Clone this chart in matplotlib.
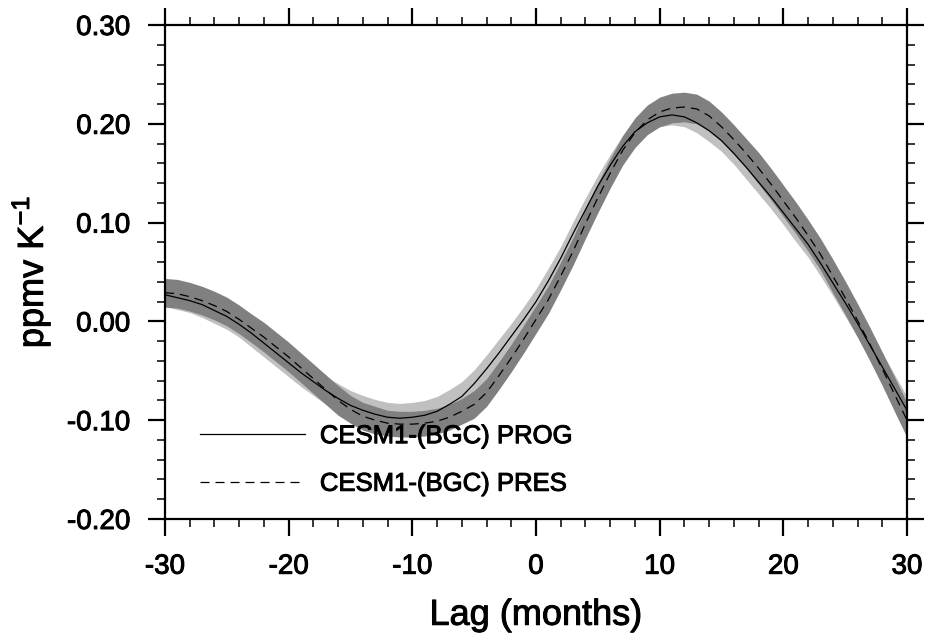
import numpy as np
import matplotlib
matplotlib.use("Agg")
import matplotlib.pyplot as plt
import matplotlib.patheffects as pe
from matplotlib.ticker import MultipleLocator, FormatStrFormatter

# ---- data (lag in months, -30 .. 30) ----
lag = list(range(-30, 31))

prog_mean = [0.027, 0.024, 0.021, 0.017, 0.011, 0.005, -0.003, -0.012, -0.022, -0.032,   # -30..-21
             -0.042, -0.052, -0.061, -0.070, -0.078, -0.085, -0.090, -0.094, -0.097, -0.098,  # -20..-11
             -0.097, -0.095, -0.091, -0.084, -0.076, -0.063, -0.048, -0.032, -0.015, 0.002,  # -10..-1
             0.020, 0.041, 0.064, 0.089, 0.113, 0.137, 0.158, 0.177, 0.192, 0.201,          # 0..9
             0.207, 0.209, 0.207, 0.201, 0.193, 0.183, 0.170, 0.156, 0.141, 0.126,          # 10..19
             0.110, 0.094, 0.078, 0.059, 0.039, 0.019, -0.002, -0.024, -0.046, -0.068, -0.090]  # 20..30
prog_spread = [0.012, 0.012, 0.012, 0.013, 0.013, 0.013, 0.013, 0.014, 0.014, 0.014,
               0.014, 0.014, 0.014, 0.014, 0.015, 0.015, 0.015, 0.015, 0.015, 0.015,
               0.015, 0.015, 0.015, 0.015, 0.015, 0.014, 0.014, 0.014, 0.013, 0.013,
               0.013, 0.013, 0.012, 0.012, 0.012, 0.011, 0.011, 0.011, 0.010, 0.010,
               0.010, 0.010, 0.010, 0.010, 0.011, 0.011, 0.011, 0.012, 0.012, 0.012,
               0.012, 0.013, 0.013, 0.013, 0.013, 0.014, 0.014, 0.014, 0.014, 0.014, 0.014]

pres_mean = [0.029, 0.028, 0.025, 0.021, 0.016, 0.010, 0.002, -0.007, -0.016, -0.026,   # -30..-21
             -0.036, -0.047, -0.058, -0.069, -0.080, -0.089, -0.096, -0.100, -0.103, -0.104,  # -20..-11
             -0.104, -0.103, -0.101, -0.097, -0.091, -0.084, -0.072, -0.055, -0.037, -0.018,  # -10..-1
             0.002, 0.022, 0.046, 0.071, 0.099, 0.125, 0.150, 0.173, 0.191, 0.204,          # 0..9
             0.212, 0.216, 0.217, 0.215, 0.208, 0.197, 0.184, 0.170, 0.155, 0.139,          # 10..19
             0.122, 0.105, 0.087, 0.068, 0.046, 0.024, 0.001, -0.023, -0.048, -0.074, -0.100]  # 20..30
pres_spread = [0.0145, 0.0145, 0.0145, 0.0145, 0.0145, 0.0145, 0.0145, 0.0145, 0.015, 0.015,
               0.015, 0.015, 0.015, 0.015, 0.015, 0.014, 0.014, 0.014, 0.013, 0.013,
               0.013, 0.013, 0.013, 0.013, 0.013, 0.014, 0.014, 0.014, 0.014, 0.014,
               0.014, 0.014, 0.014, 0.014, 0.015, 0.015, 0.015, 0.015, 0.015, 0.015,
               0.015, 0.015, 0.015, 0.015, 0.015, 0.015, 0.015, 0.015, 0.016, 0.016,
               0.016, 0.016, 0.016, 0.016, 0.017, 0.017, 0.017, 0.017, 0.017, 0.0175, 0.0175]

labels = ["CESM1-(BGC) PROG", "CESM1-(BGC) PRES"]

plt.rcParams['font.family'] = ['Liberation Sans', 'DejaVu Sans']
plt.rcParams['lines.scale_dashes'] = False

x = np.array(lag)
pm, ps = np.array(prog_mean), np.array(prog_spread)
rm, rs = np.array(pres_mean), np.array(pres_spread)

fig = plt.figure(figsize=(9.25, 6.33), dpi=100)
ax = fig.add_axes([165/925, 1-519/633, 742/925, 494/633])

ax.fill_between(x, pm - ps, pm + ps, color='#c0c0c0', linewidth=0, zorder=1)
ax.fill_between(x, rm - rs, rm + rs, color='#808080', linewidth=0, zorder=2)
l1, = ax.plot(x, pm, color='black', lw=0.9, zorder=3, label=labels[0])
l2, = ax.plot(x, rm, color='black', lw=0.9, dashes=(6.5, 4.3), zorder=3, label=labels[1])

ax.set_xlim(-30, 30)
ax.set_ylim(-0.2, 0.3)
ax.xaxis.set_major_locator(MultipleLocator(10))
ax.xaxis.set_minor_locator(MultipleLocator(2))
ax.yaxis.set_major_locator(MultipleLocator(0.1))
ax.yaxis.set_minor_locator(MultipleLocator(0.02))
ax.yaxis.set_major_formatter(FormatStrFormatter('%.2f'))
ax.xaxis.set_major_formatter(FormatStrFormatter('%d'))

for s in ax.spines.values():
    s.set_linewidth(1.6)
ax.tick_params(which='both', direction='out', top=True, right=True)
ax.tick_params(which='major', length=12, width=1.6, labelsize=20)
ax.tick_params(which='minor', length=6, width=1.1)
ax.tick_params(axis='y', which='major', pad=13)
ax.tick_params(axis='x', which='major', pad=13)

thick = [pe.withStroke(linewidth=0.7, foreground='black')]
ax.set_xlabel('Lag (months)', fontsize=26, labelpad=13, path_effects=thick)
ax.set_ylabel(r'ppmv K$^{\mathregular{-1}}$', fontsize=26, labelpad=10, path_effects=thick)
for t in ax.get_xticklabels() + ax.get_yticklabels():
    t.set_path_effects(thick)

leg = ax.legend(handles=[l1, l2], loc='upper left', bbox_to_anchor=(0.047, 0.192),
                frameon=False, fontsize=18.5, handlelength=4.09, handletextpad=0.58,
                labelspacing=0.92, borderpad=0, borderaxespad=0)
leg.set_zorder(5)
for t in leg.get_texts():
    t.set_path_effects(thick)

fig.savefig('out.png', dpi=100)
